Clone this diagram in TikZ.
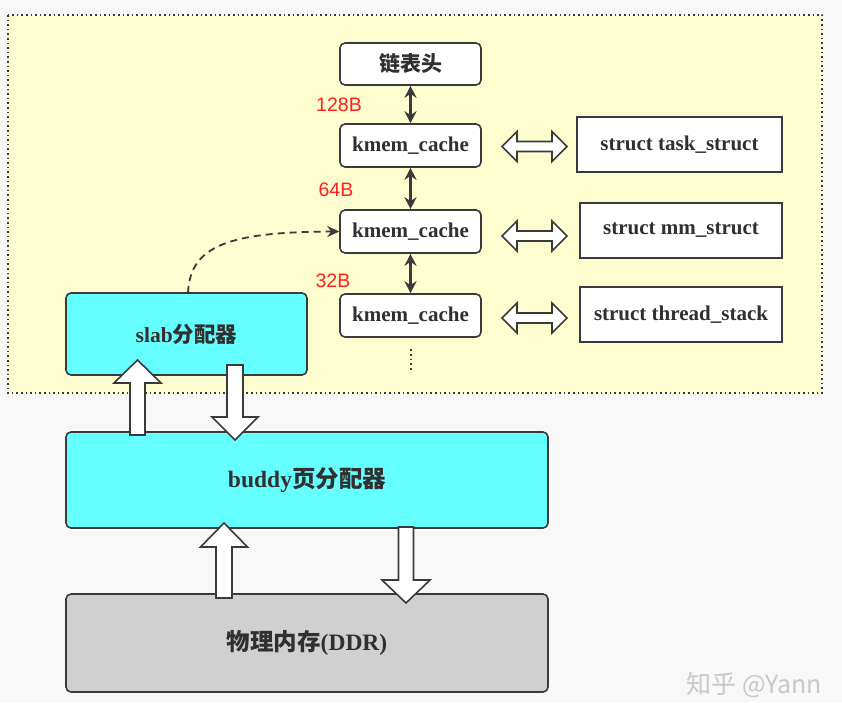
\documentclass[tikz,border=0pt]{standalone}
\usepackage{fontspec}
\setmainfont{Liberation Serif}
\newfontfamily\cjk{Noto Sans CJK SC}
\newfontfamily\lsans{Liberation Sans}
\usetikzlibrary{arrows.meta}
\definecolor{bgc}{HTML}{F8F8F8}
\definecolor{yel}{HTML}{FDFDCF}
\definecolor{bd}{HTML}{3A3A3A}
\definecolor{txt}{HTML}{303030}
\definecolor{cy}{HTML}{66FFFF}
\definecolor{gr}{HTML}{D0D0D0}
\definecolor{redl}{HTML}{FF2020}
\definecolor{wm}{HTML}{C8C8C8}
\newcommand\fsz[1]{\fontsize{#1}{#1}\selectfont}
\newcommand\vblock[6]{\draw[hol] ({#1-#5},#2) -- ({#1-#5},#3) -- ({#1-#6},#3) -- (#1,#4) -- ({#1+#6},#3) -- ({#1+#5},#3) -- ({#1+#5},#2) -- cycle;}
\newcommand\hdbl[1]{\draw[hol] (502,#1) -- (517,{#1-15}) -- (517,{#1-5}) -- (552,{#1-5}) -- (552,{#1-15}) -- (567,#1) -- (552,{#1+15}) -- (552,{#1+5}) -- (517,{#1+5}) -- (517,{#1+15}) -- cycle;}
\begin{document}
\begin{tikzpicture}[x=1pt,y=-1pt,
  box/.style={draw=bd, line width=1.6pt, rounded corners=5pt, fill=white, inner sep=0pt, text=txt, font=\fsz{21}\bfseries},
  sbox/.style={draw=bd, line width=1.6pt, fill=white, inner sep=0pt, text=txt, font=\fsz{21}\bfseries},
  bigbox/.style={draw=bd, line width=1.6pt, rounded corners=5pt, inner sep=0pt, text=txt, font=\fsz{23.5}\bfseries},
  hol/.style={draw=bd, line width=1.6pt, fill=white, line join=miter},
  lbl/.style={text=redl, font=\lsans\fsz{19.5}, inner sep=0pt},
  link/.style={draw=bd, line width=2.4pt, {Stealth[length=12pt,width=12pt]}-{Stealth[length=12pt,width=12pt]}}
]
\useasboundingbox (0,0) rectangle (842,702);
\fill[bgc] (0,0) rectangle (842,702);
\draw[bd, fill=yel, line width=1.5pt, dash pattern=on 1.6pt off 3pt] (8,15) rectangle (822,393);

\node[box, minimum width=141pt, minimum height=42pt] (head) at (410.5,64) {\cjk 链表头};
\node[box, minimum width=141pt, minimum height=43pt] (k1) at (410.5,145.5) {kmem\_cache};
\node[box, minimum width=141pt, minimum height=43pt] (k2) at (410.5,231.5) {kmem\_cache};
\node[box, minimum width=141pt, minimum height=43pt] (k3) at (410.5,315.5) {kmem\_cache};

\node[sbox, minimum width=205pt, minimum height=55pt] (s1) at (679.5,144.5) {struct task\_struct};
\node[sbox, minimum width=202pt, minimum height=55pt] (s2) at (681,230.5) {struct mm\_struct};
\node[sbox, minimum width=202pt, minimum height=55pt] (s3) at (681,314.5) {struct thread\_stack};

\node[lbl] (l1) at (339,105) {128B};
\node[lbl] (l2) at (336,190) {64B};
\node[lbl] (l3) at (333,281) {32B};

\draw[link] (head.south) -- (k1.north);
\draw[link] (k1.south) -- (k2.north);
\draw[link] (k2.south) -- (k3.north);
\coordinate (d1) at (411,349);
\coordinate (d2) at (411,371);
\draw[bd, line width=1.8pt, dash pattern=on 1.8pt off 3pt] (d1) -- (d2);

\hdbl{146.5}
\hdbl{236}
\hdbl{318}

\node[bigbox, fill=cy, minimum width=241pt, minimum height=82pt, font=\fsz{21.5}\bfseries] (slab) at (186.5,334) {slab{\cjk 分配器}};
\node[bigbox, fill=cy, minimum width=482pt, minimum height=96pt] (buddy) at (307,480) {buddy{\cjk 页分配器}};
\node[bigbox, fill=gr, minimum width=482pt, minimum height=98pt] (ddr) at (307,643) {{\cjk 物理内存}(DDR)};

\draw[bd, line width=1.8pt, dash pattern=on 7pt off 5pt, -{Stealth[length=12pt,width=11pt]}] (188,293) .. controls (190,245) and (230,232) .. (k2.west);

\vblock{137.5}{435}{383}{360}{7.5}{23.5}
\vblock{235}{365}{417}{440}{8}{23}
\vblock{224}{598}{547}{523}{8}{23.5}
\vblock{406}{527}{580}{603}{7.5}{24}

\node[text=wm, font=\cjk\fsz{25}, inner sep=0pt] (wmk) at (754,685) {知乎 @Yann};
\end{tikzpicture}
\end{document}
